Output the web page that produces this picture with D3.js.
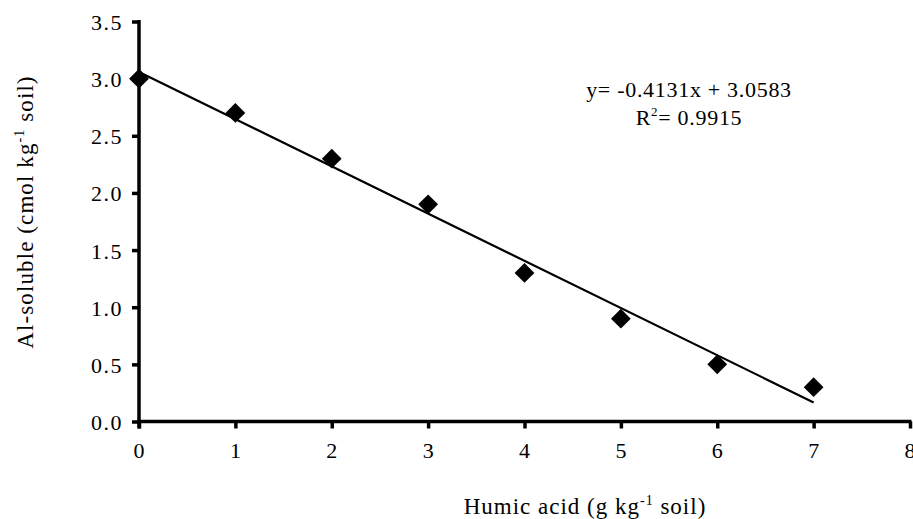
<!DOCTYPE html>
<html>
<head>
<meta charset="utf-8">
<script src="https://cdn.jsdelivr.net/npm/d3@7"></script>
<style>
  body { margin: 0; background: #fff; }
</style>
</head>
<body>
<div id="chart"></div>
<script>
var width = 913,
  height = 519,
  serif = "'Liberation Serif'";

// data
var humicAcid = [0, 1, 2, 3, 4, 5, 6, 7];
var alSoluble = [3.0, 2.7, 2.3, 1.9, 1.3, 0.9, 0.5, 0.3];
var xTicks = [0, 1, 2, 3, 4, 5, 6, 7, 8];
var yTicks = [0.0, 0.5, 1.0, 1.5, 2.0, 2.5, 3.0, 3.5];
var slope = -0.4131, intercept = 3.0583;

var svg = d3.select("#chart")
  .append("svg")
  .attr("width", width)
  .attr("height", height);

var x = d3.scaleLinear().domain([0, 8]).range([139, 910]);
var y = d3.scaleLinear().domain([0, 3.5]).range([421.5, 21.5]);

// x axis
var xAxis = svg.append("g")
  .attr("transform", "translate(0," + y(0) + ")")
  .call(d3.axisBottom(x).tickValues(xTicks).tickFormat(d3.format("d")).tickSize(7).tickSizeOuter(0));
xAxis.select(".domain")
  .attr("stroke-width", 3.5)
  .attr("d", "M" + (x(0) - 1.5) + ",0H" + (x(8) + 1.5));
xAxis.selectAll(".tick line").attr("stroke-width", 3.5);
xAxis.selectAll(".tick text")
  .attr("y", 36).attr("dy", 0)
  .style("font-family", serif)
  .style("font-size", "22px")
  .style("letter-spacing", "1px");

// y axis
var yAxis = svg.append("g")
  .attr("transform", "translate(" + x(0) + ",0)")
  .call(d3.axisLeft(y).tickValues(yTicks).tickFormat(d3.format(".1f")).tickSize(7).tickSizeOuter(0));
yAxis.select(".domain")
  .attr("stroke-width", 3.5)
  .attr("d", "M0," + (y(0) + 7) + "V" + (y(3.5) - 1.5));
yAxis.selectAll(".tick line").attr("stroke-width", 3.5);
yAxis.selectAll(".tick text")
  .attr("x", -16).attr("dy", 0).attr("y", 8)
  .style("font-family", serif)
  .style("font-size", "22px")
  .style("letter-spacing", "1.5px");

// trend line
svg.append("line")
  .attr("x1", x(0)).attr("y1", y(intercept))
  .attr("x2", x(7)).attr("y2", y(slope * 7 + intercept))
  .attr("stroke", "#000")
  .attr("stroke-width", 2.2);

// points
svg.selectAll("path.pt")
  .data(humicAcid)
  .enter()
  .append("path")
  .attr("class", "pt")
  .attr("d", d3.symbol(d3.symbolDiamond2, 250))
  .attr("transform", function (d, i) { return "translate(" + x(d) + "," + y(alSoluble[i]) + ")"; })
  .attr("fill", "#000");

// equation
svg.append("text")
  .attr("x", 689).attr("y", 97)
  .attr("text-anchor", "middle")
  .style("font-family", serif)
  .style("font-size", "22px")
  .style("letter-spacing", "0.7px")
  .text("y= -0.4131x + 3.0583");

var r2 = svg.append("text")
  .attr("x", 689).attr("y", 125)
  .attr("text-anchor", "middle")
  .style("font-family", serif)
  .style("font-size", "22px")
  .style("letter-spacing", "0.7px");
r2.append("tspan").text("R");
r2.append("tspan").attr("dy", -9).style("font-size", "13px").text("2");
r2.append("tspan").attr("dy", 9).text("= 0.9915");

// axis titles
var xt = svg.append("text")
  .attr("x", 585).attr("y", 514)
  .attr("text-anchor", "middle")
  .style("font-family", serif)
  .style("font-size", "23px")
  .style("letter-spacing", "1px");
xt.append("tspan").text("Humic acid (g kg");
xt.append("tspan").attr("dy", -9).style("font-size", "14px").text("-1");
xt.append("tspan").attr("dy", 9).text(" soil)");

var yt = svg.append("text")
  .attr("transform", "translate(33,212) rotate(-90)")
  .attr("text-anchor", "middle")
  .style("font-family", serif)
  .style("font-size", "23px")
  .style("letter-spacing", "1.1px");
yt.append("tspan").text("Al-soluble (cmol kg");
yt.append("tspan").attr("dy", -9).style("font-size", "14px").text("-1");
yt.append("tspan").attr("dy", 9).text(" soil)");
</script>
</body>
</html>
